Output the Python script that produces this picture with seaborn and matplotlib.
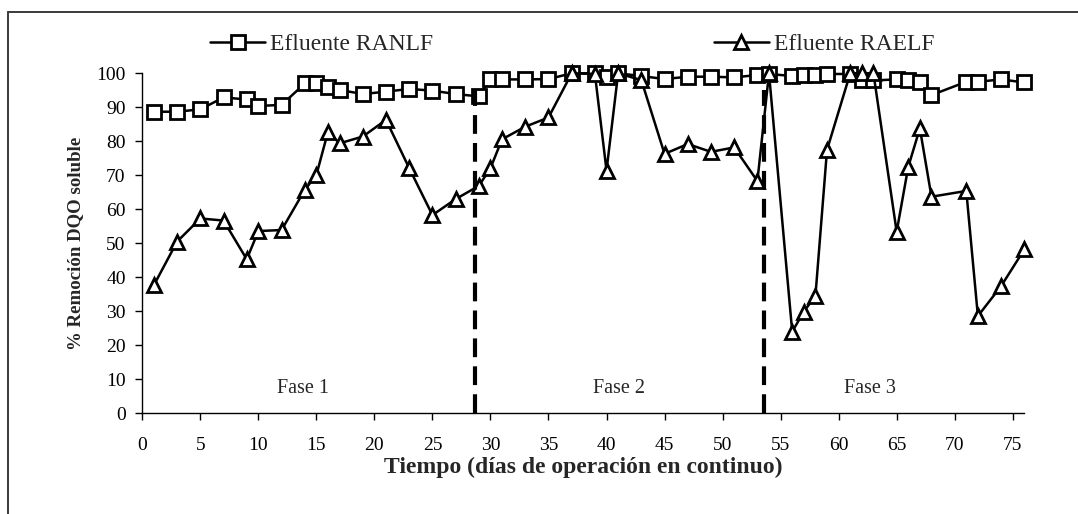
import numpy as np
import pandas as pd
import matplotlib
matplotlib.use("Agg")
import matplotlib.pyplot as plt
import seaborn as sns
from matplotlib.lines import Line2D

# ==========================================
# DATOS
# ==========================================
dias = [1, 3, 5, 7, 9, 10, 12, 14, 15, 16, 17, 19, 21, 23, 25, 27, 29, 30, 31, 33,
        35, 37, 39, 40, 41, 43, 45, 47, 49, 51, 53, 54, 56, 57, 58, 59, 61, 62, 63,
        65, 66, 67, 68, 71, 72, 74, 76]

ranlf = [88.7, 88.7, 89.4, 92.9, 92.3, 90.4, 90.7, 97.0, 97.2, 95.9, 95.1, 93.9,
         94.6, 95.4, 94.9, 93.9, 93.2, 98.3, 98.2, 98.2, 98.3, 100, 100, 99.0, 100,
         99.2, 98.3, 99.0, 99.0, 98.8, 99.5, 99.8, 99.2, 99.5, 99.5, 99.8, 99.8,
         97.9, 97.9, 98.2, 98.0, 97.5, 93.6, 97.5, 97.5, 98.2, 97.3]

raelf = [37.7, 50.5, 57.3, 56.7, 45.3, 53.6, 53.9, 65.7, 70.1, 82.8, 79.4, 81.4,
         86.3, 72.1, 58.3, 63.0, 66.9, 72.1, 80.6, 84.3, 87.0, 100, 99.8, 71.4, 100,
         98.0, 76.3, 79.2, 76.9, 78.2, 68.3, 100, 24.0, 29.9, 34.5, 77.5, 100, 100,
         100, 53.4, 72.5, 83.8, 63.7, 65.4, 28.6, 37.4, 48.2]

cambios_fase = [28.7, 53.6]
fases = ["Fase 1", "Fase 2", "Fase 3"]
fases_x = [13.85, 41.1, 62.7]

df = pd.DataFrame({"Dia": dias, "RANLF": ranlf, "RAELF": raelf})

# ==========================================
# ESTILO
# ==========================================
sns.set_theme(style="ticks")
plt.rcParams["font.family"] = ["Liberation Serif", "DejaVu Serif"]

fig = plt.figure(figsize=(10.78, 5.14), dpi=100)
ax = fig.add_axes([0.132, 0.1959, 0.8182, 0.6615])

estilo = dict(color="black", linewidth=1.8, markersize=9.5, markeredgewidth=2,
              markerfacecolor="white", markeredgecolor="black", clip_on=False)

sns.lineplot(data=df, x="Dia", y="RANLF", marker="s", ax=ax,
             label="Efluente RANLF", **estilo)
sns.lineplot(data=df, x="Dia", y="RAELF", marker="^", ax=ax,
             label="Efluente RAELF", **estilo)

# lineas de cambio de fase
for xc in cambios_fase:
    ax.plot([xc, xc], [0, 95], color="black", linewidth=3, dashes=(4.5, 2.2))

for fx, ft in zip(fases_x, fases):
    ax.text(fx, 7.4, ft, ha="center", va="center", fontsize=14.5)

ax.set_xlim(0, 76)
ax.set_ylim(0, 100)
ax.set_xticks(np.arange(0, 80, 5))
ax.set_yticks(np.arange(0, 110, 10))
sns.despine(ax=ax)
ax.tick_params(axis="both", direction="out", length=5, width=1, color="black",
               labelsize=14, labelcolor="black")
ax.tick_params(axis="x", pad=12)
ax.tick_params(axis="y", pad=7)
for sp in ["left", "bottom"]:
    ax.spines[sp].set_color("black")
    ax.spines[sp].set_linewidth(1)

ax.set_xlabel("Tiempo (días de operación en continuo)", fontsize=17,
              fontweight="bold", labelpad=2)
ax.set_ylabel("% Remoción DQO soluble", fontsize=13.6, fontweight="bold",
              labelpad=9)

leg = ax.legend(ncol=2, frameon=False, loc="center left",
                bbox_to_anchor=(0.0768, 1.085), fontsize=17,
                handlelength=2.33, handletextpad=0.2, columnspacing=11.9,
                borderaxespad=0, borderpad=0)

# marco de la figura
fig.add_artist(Line2D([8 / 1078, 1], [1 - 12 / 514, 1 - 12 / 514],
                      transform=fig.transFigure, color="#3a3a3a", linewidth=1.4))
fig.add_artist(Line2D([8 / 1078, 8 / 1078], [0, 1 - 12 / 514],
                      transform=fig.transFigure, color="#3a3a3a", linewidth=1.4))

fig.savefig("out.png", dpi=100)
